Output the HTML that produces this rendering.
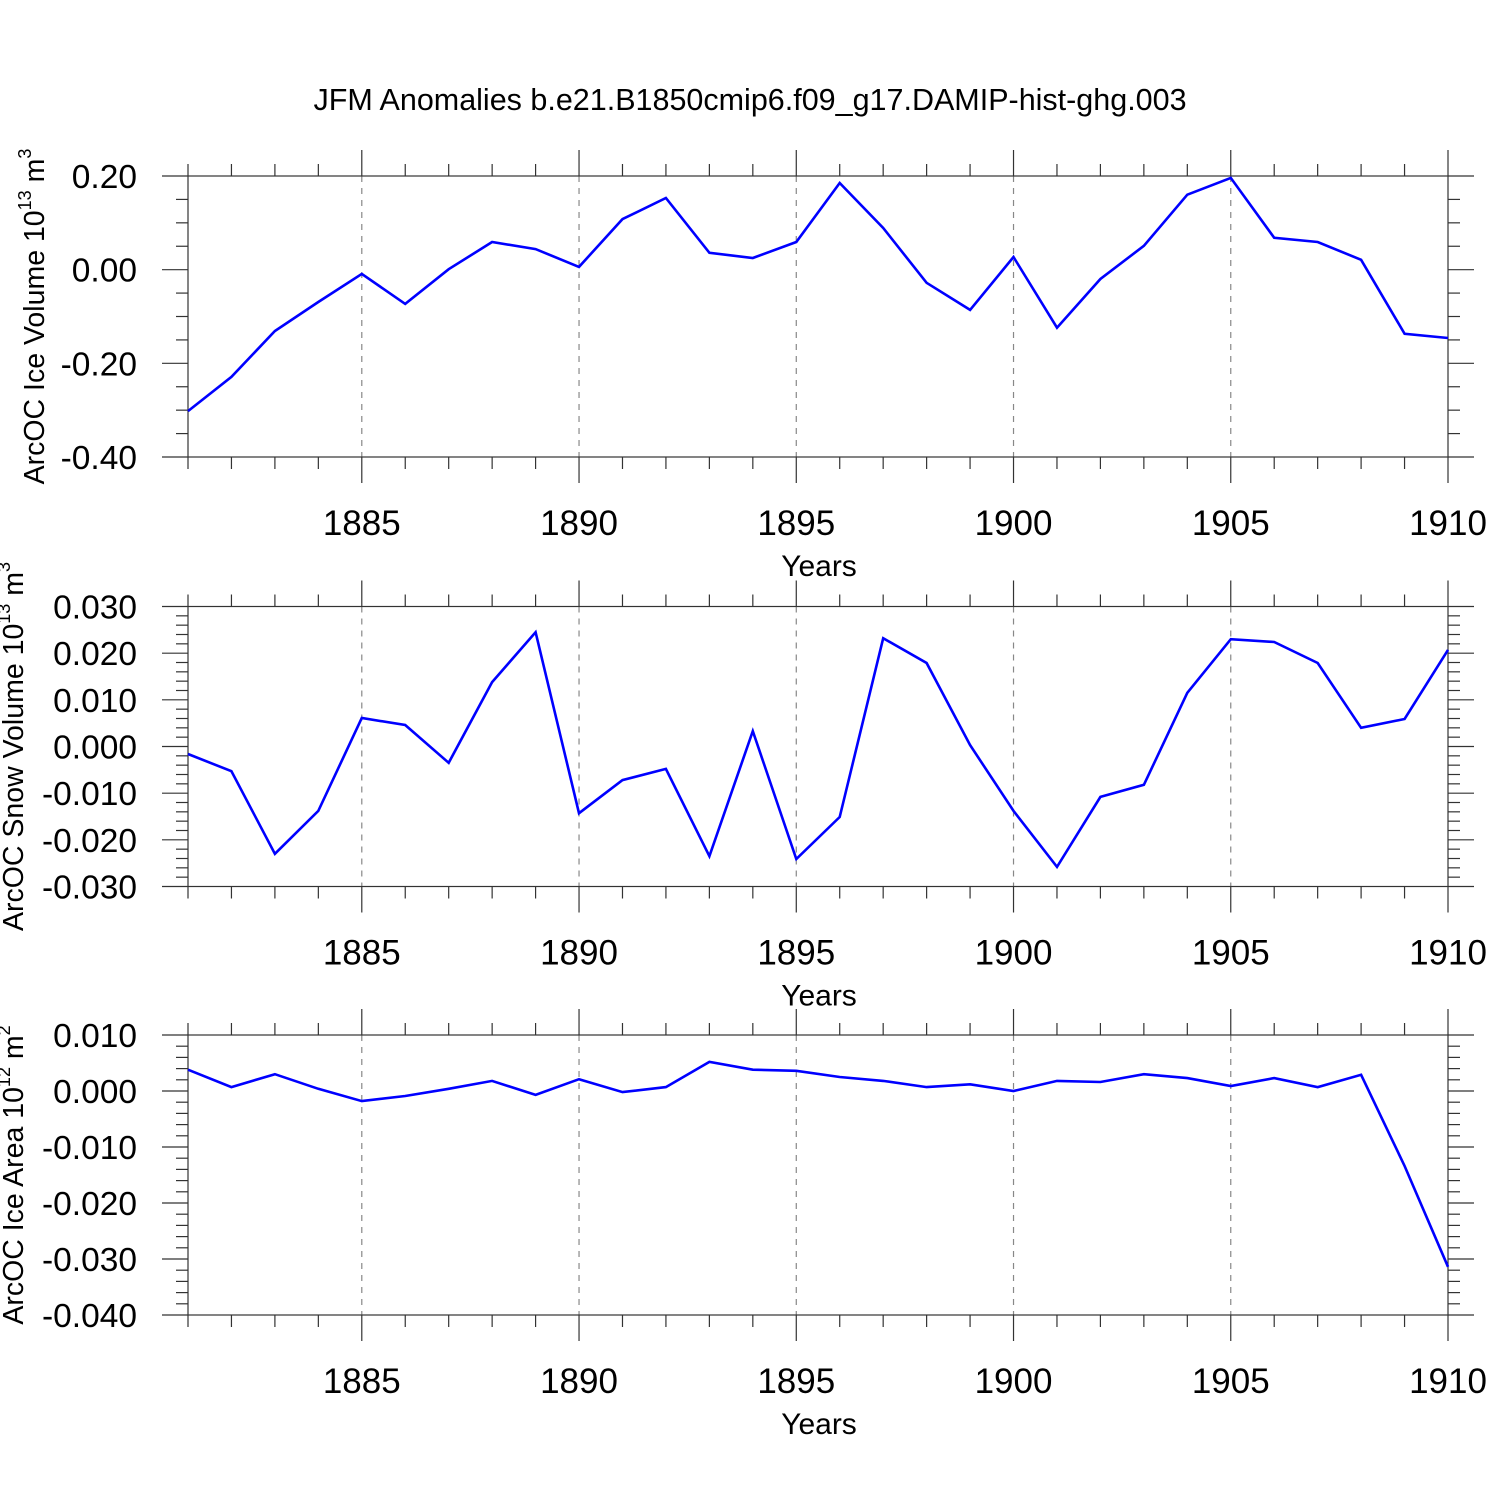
<!DOCTYPE html>
<html><head><meta charset="utf-8"><style>
html,body{margin:0;padding:0;background:#fff}
svg{display:block;font-family:"Liberation Sans",Arial,sans-serif}
</style></head><body>
<svg id="chart" width="1500" height="1500" viewBox="0 0 1500 1500" xmlns="http://www.w3.org/2000/svg">
<rect width="1500" height="1500" fill="#fff"/>
<text x="750" y="110" text-anchor="middle" font-size="30.5">JFM Anomalies b.e21.B1850cmip6.f09_g17.DAMIP-hist-ghg.003</text>
</svg>
<script>
const years = [1881,1882,1883,1884,1885,1886,1887,1888,1889,1890,1891,1892,1893,1894,1895,1896,1897,1898,1899,1900,1901,1902,1903,1904,1905,1906,1907,1908,1909,1910];
const xTickLabels = ['1885','1890','1895','1900','1905','1910'];
const iceVolume = [-0.302,-0.229,-0.131,-0.069,-0.009,-0.073,0.001,0.059,0.044,0.006,0.108,0.153,0.036,0.025,0.059,0.185,0.089,-0.028,-0.086,0.027,-0.124,-0.020,0.051,0.160,0.196,0.068,0.059,0.021,-0.137,-0.146];
const snowVolume = [-0.0016,-0.0053,-0.0230,-0.0138,0.0061,0.0046,-0.0035,0.0138,0.0245,-0.0143,-0.0072,-0.0048,-0.0235,0.0033,-0.0241,-0.0151,0.0232,0.0179,0.0003,-0.0138,-0.0258,-0.0108,-0.0082,0.0115,0.0230,0.0224,0.0179,0.0040,0.0059,0.0207];
const iceArea = [0.0038,0.0007,0.0030,0.0004,-0.0018,-0.0009,0.0004,0.0018,-0.0007,0.0021,-0.0002,0.0007,0.0052,0.0038,0.0036,0.0025,0.0018,0.0007,0.0012,0.0000,0.0018,0.0016,0.0030,0.0023,0.0009,0.0023,0.0007,0.0029,-0.0134,-0.0314];
const iceVolumeTicks = ['0.20','0.00','-0.20','-0.40'];
const snowVolumeTicks = ['0.030','0.020','0.010','0.000','-0.010','-0.020','-0.030'];
const iceAreaTicks = ['0.010','0.000','-0.010','-0.020','-0.030','-0.040'];

const NS='http://www.w3.org/2000/svg';
const svg=document.getElementById('chart');
const X0=188,X1=1448;
function xs(yr){return X0+(yr-1881)/(1910-1881)*(X1-X0);}
function mk(tag,attrs,parent){const e=document.createElementNS(NS,tag);for(const k in attrs)e.setAttribute(k,attrs[k]);(parent||svg).appendChild(e);return e;}

const panels=[
 {name:'ice-volume',top:176,bot:457,vmax:0.2,vmin:-0.4,ticks:iceVolumeTicks,minor:0.05,data:iceVolume,title:'ArcOC Ice Volume 10',sup:'13',unit:' m',usup:'3',tx:44},
 {name:'snow-volume',top:606.5,bot:886.5,vmax:0.03,vmin:-0.03,ticks:snowVolumeTicks,minor:0.002,data:snowVolume,title:'ArcOC Snow Volume 10',sup:'13',unit:' m',usup:'3',tx:23},
 {name:'ice-area',top:1035,bot:1315,vmax:0.01,vmin:-0.04,ticks:iceAreaTicks,minor:0.002,data:iceArea,title:'ArcOC Ice Area 10',sup:'12',unit:' m',usup:'2',tx:23}
];

panels.forEach(p=>{
 const g=mk('g',{});
 
 
 const ys=v=>p.top+(p.vmax-v)/(p.vmax-p.vmin)*(p.bot-p.top);
 for(let yr=1885;yr<1910;yr+=5){
  const l=mk('line',{x1:xs(yr),x2:xs(yr),y1:p.top,y2:p.bot,stroke:'#888','stroke-width':1.2,'stroke-dasharray':'6,6'},g);
  
  
 }
 const fr=mk('rect',{x:X0,y:p.top,width:X1-X0,height:p.bot-p.top,fill:'none',stroke:'#333','stroke-width':1.2},g);
 
 
 for(let yr=1881;yr<=1910;yr++){
  const major=(yr%5===0);
  const len=major?26:12;
  mk('line',{x1:xs(yr),x2:xs(yr),y1:p.top-len,y2:p.top,stroke:'#333','stroke-width':1.2},g);
  mk('line',{x1:xs(yr),x2:xs(yr),y1:p.bot,y2:p.bot+len,stroke:'#333','stroke-width':1.2},g);
 }
 xTickLabels.forEach(lb=>{
  const t=mk('text',{x:xs(+lb),y:p.bot+78,'text-anchor':'middle','font-size':35},g);
  t.textContent=lb;
  
  
 });
 const xt=mk('text',{x:819,y:p.bot+119,'text-anchor':'middle','font-size':30},g);
 xt.textContent='Years';
 
 
 const n=Math.round((p.vmax-p.vmin)/p.minor);
 const majorStep=(p.vmax-p.vmin)/(p.ticks.length-1);
 for(let i=0;i<=n;i++){
  const v=p.vmax-i*p.minor;const y=ys(v);
  const r=(p.vmax-v)/majorStep;
  const isMaj=Math.abs(r-Math.round(r))<1e-6;
  const len=isMaj?26:12;
  mk('line',{x1:X0-len,x2:X0,y1:y,y2:y,stroke:'#333','stroke-width':1.2},g);
  mk('line',{x1:X1,x2:X1+len,y1:y,y2:y,stroke:'#333','stroke-width':1.2},g);
 }
 p.ticks.forEach(lb=>{
  const t=mk('text',{x:137,y:ys(+lb)+12,'text-anchor':'end','font-size':33.5},g);
  t.textContent=lb;
  
  
 });
 const cy=(p.top+p.bot)/2;
 const yt=mk('text',{x:0,y:0,'text-anchor':'middle','font-size':28.5,transform:`translate(${p.tx},${cy}) rotate(-90)`},g);
 
 
 const t1=mk('tspan',{},yt);t1.textContent=p.title;
 const t2=mk('tspan',{'font-size':18,dy:-13},yt);t2.textContent=p.sup;
 const t3=mk('tspan',{dy:13},yt);t3.textContent=p.unit;
 const t4=mk('tspan',{'font-size':18,dy:-13},yt);t4.textContent=p.usup;
 const pts=years.map((yr,i)=>xs(yr).toFixed(1)+','+ys(p.data[i]).toFixed(1)).join(' ');
 const pl=mk('polyline',{points:pts,fill:'none',stroke:'#0000ff','stroke-width':2.6,'stroke-linejoin':'miter'},g);
 
 
});
</script>
</body></html>
